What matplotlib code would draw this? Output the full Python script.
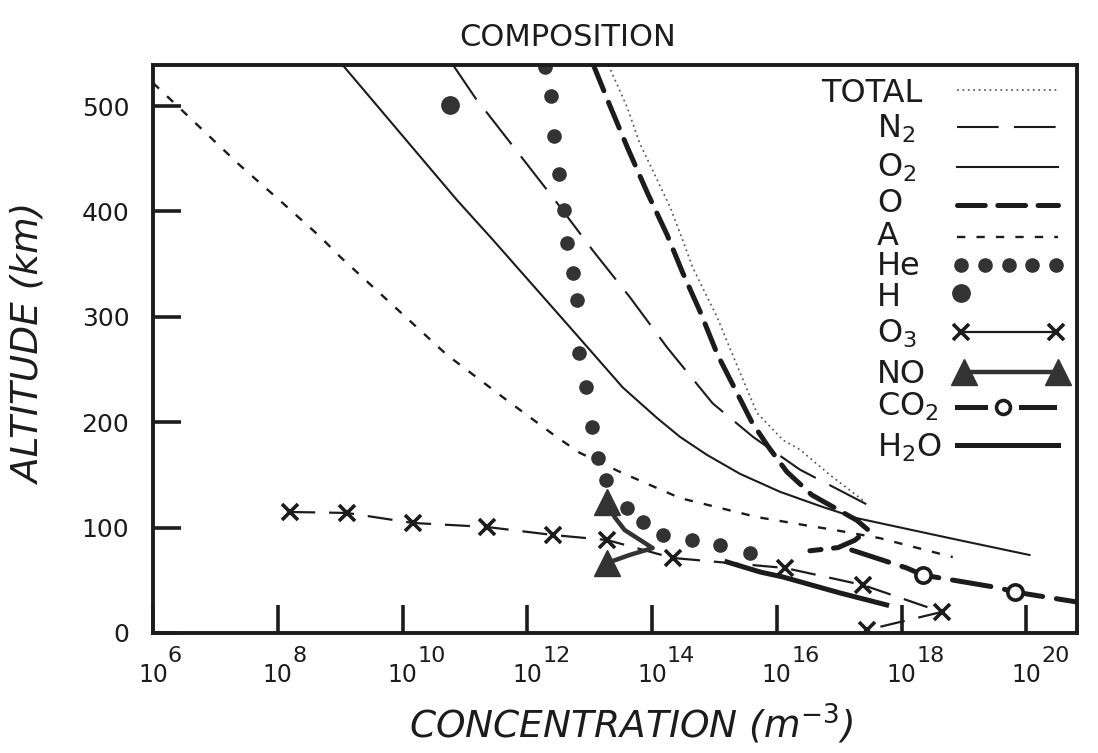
import matplotlib
matplotlib.use('Agg')
import matplotlib.pyplot as plt
import numpy as np
import matplotlib.transforms as mtransforms
from matplotlib.ticker import FixedLocator, NullLocator

plt.rcParams['lines.scale_dashes'] = False
plt.rcParams['font.family'] = ['DejaVu Sans']
plt.rcParams['mathtext.default'] = 'regular'

# ---------------- data (log10 concentration in m^-3, altitude in km) ----------------
logA = [6.0, 6.59, 7.39, 8.08, 8.68, 9.0, 10.71, 11.67, 12.47, 12.84, 13.48, 14.45, 15.68, 16.48, 16.90, 17.65, 18.82]
altA = [522, 489, 444, 408, 376, 357, 264, 221, 186, 171, 153, 128, 110, 102, 98, 90, 72]

logTOTAL = [13.30, 13.36, 13.60, 13.80, 14.01, 14.29, 14.49, 14.65, 15.04, 15.41, 15.68, 16.10, 16.37, 16.85, 17.40]
altTOTAL = [539, 531, 499, 465, 439, 404, 373, 347, 300, 247, 209, 183, 174, 150, 125]

logN2 = [10.81, 11.21, 11.35, 12.44, 13.05, 13.64, 14.24, 14.97, 15.62, 16.37, 17.54]
altN2 = [539, 504, 494, 411, 363, 319, 271, 218, 186, 155, 119]

logO2 = [9.04, 10.87, 11.45, 12.73, 13.53, 14.08, 14.45, 14.88, 15.41, 16.05, 16.69, 17.28, 18.77, 20.05]
altO2 = [539, 411, 373, 287, 233, 204, 186, 169, 151, 134, 120.5, 109, 90, 74]

logO = [13.06, 13.32, 13.61, 13.93, 14.24, 14.49, 14.77, 15.05, 15.36, 15.60, 15.86, 16.16, 16.56, 17.28, 17.46, 17.25, 16.98, 16.53]
altO = [539, 501, 460, 417, 378, 342, 305, 264, 228, 200, 177, 153, 131, 107, 98, 88, 81, 78]

logHe = [12.28, 12.38, 12.43, 12.51, 12.59, 12.63, 12.73, 12.79, 12.83, 12.94, 13.04, 13.13, 13.26, 13.60, 13.85, 14.17, 14.64, 15.09, 15.57]
altHe = [537, 510, 472, 436, 401, 370, 342, 316, 266, 233, 195, 166, 145, 119, 105, 93, 88, 83.5, 76]

logH = [10.76]
altH = [501]

logO3 = [8.20, 9.11, 10.17, 11.35, 12.41, 13.28, 14.33, 16.13, 17.38, 18.64, 17.44]
altO3 = [114.8, 113.9, 104.4, 100.6, 93.0, 88.2, 71.2, 61.7, 45.5, 19.9, 2.8]

logNO = [13.28, 13.40, 13.56, 14.01, 13.64, 13.28]
altNO = [124.3, 110, 97.7, 80.6, 74, 66.4]

logCO2 = [17.20, 18.08, 18.34, 19.57, 19.81, 20.81]
altCO2 = [78.7, 61.7, 55, 42.7, 38.9, 29.4]
co2_circles = [2, 4]

logH2O = [15.20, 15.73, 16.10, 17.01, 17.76]
altH2O = [67.4, 57.9, 53.1, 38, 26.6]

xtick_exp = [6, 8, 10, 12, 14, 16, 18, 20]
ytick_vals = [0, 100, 200, 300, 400, 500]

legend_labels = ['TOTAL', r'N$_2$', r'O$_2$', 'O', 'A', 'He', 'H', r'O$_3$', 'NO', r'CO$_2$', r'H$_2$O']

# ---------------- styles ----------------
ink = '#1c1c1c'
sty = {
    'TOTAL': dict(color='#555555', lw=1.2, ls=(0, (1.3, 2.6))),
    'N2': dict(color=ink, lw=1.5, ls=(0, (30, 11))),
    'O2': dict(color=ink, lw=1.5, ls='-'),
    'O': dict(color=ink, lw=3.6, ls=(0, (20, 9)), dash_capstyle='round'),
    'A': dict(color=ink, lw=1.7, ls=(0, (6, 8))),
    'O3': dict(color=ink, lw=1.6, ls=(0, (18, 10)), marker='x', ms=11, mew=2.6),
    'NO': dict(color='#333333', lw=3.2, marker='^', ms=19),
    'CO2': dict(color=ink, lw=3.6, ls=(0, (28, 10)), dash_capstyle='round'),
    'H2O': dict(color=ink, lw=3.6, ls='-'),
}

fig = plt.figure(figsize=(10.98, 7.53), dpi=100)
ax = fig.add_axes([0.1393, 0.1594, 0.8415, 0.7543])
ax.set_xscale('log')
ax.set_xlim(1e6, 10 ** 20.81)
ax.set_ylim(0, 539)

def X(v):
    return 10 ** np.asarray(v, dtype=float)

ax.plot(X(logA), altA, **sty['A'])
ax.plot(X(logTOTAL), altTOTAL, **sty['TOTAL'])
ax.plot(X(logN2), altN2, **sty['N2'])
ax.plot(X(logO2), altO2, **sty['O2'])
ax.plot(X(logO), altO, **sty['O'])
ax.plot(X(logHe), altHe, 'o', color='#333333', ms=9.5)
ax.plot(X(logH), altH, 'o', color='#333333', ms=12.5)
ax.plot(X(logO3), altO3, **sty['O3'])
ax.plot(X(logNO), altNO, markevery=[0, len(logNO) - 1], **sty['NO'])
ax.plot(X(logH2O), altH2O, **sty['H2O'])
ax.plot(X(logCO2), altCO2, **sty['CO2'])
ax.plot(X(logCO2)[co2_circles], np.asarray(altCO2)[co2_circles], 'o', ms=11,
        mfc='white', mec=ink, mew=2.6, zorder=5)

# ---------------- axes styling ----------------
ax.xaxis.set_major_locator(FixedLocator([10.0 ** e for e in xtick_exp]))
ax.xaxis.set_minor_locator(NullLocator())
ax.set_yticks(ytick_vals)
ax.tick_params(axis='both', direction='in', length=20, width=2.6, top=False,
               right=False, labelsize=18, colors=ink)
ax.tick_params(axis='x', labelbottom=False)
ax.tick_params(axis='y', pad=17)
for s in ax.spines.values():
    s.set_linewidth(2.8)
    s.set_color(ink)

# x tick labels drawn as "10" with a large exponent, as in the hand lettering
blend = mtransforms.blended_transform_factory(ax.transData, ax.transAxes)
exp_off = blend + mtransforms.ScaledTranslation(0.15, 0, fig.dpi_scale_trans)
for e in xtick_exp:
    ax.text(10.0 ** e, -0.074, '10', transform=blend, ha='center', va='center',
            fontsize=17, color=ink)
    ax.text(10.0 ** e, -0.040, str(e), transform=exp_off, ha='left', va='center',
            fontsize=16, color=ink)

# ---------------- legend (manual, as in the original drawing) ----------------
lab_y = [0.956, 0.894, 0.824, 0.762, 0.704, 0.651, 0.597, 0.532, 0.461, 0.403, 0.331]
samp_y = [0.956, 0.891, 0.820, 0.754, 0.697, 0.648, 0.599, 0.530, 0.460, 0.398, 0.331]
x0, x1 = 0.870, 0.980
T = ax.transAxes
keys = ['TOTAL', 'N2', 'O2', 'O', 'A', 'He', 'H', 'O3', 'NO', 'CO2', 'H2O']
for lab, key, ly, sy in zip(legend_labels, keys, lab_y, samp_y):
    if key == 'TOTAL':
        ax.text(0.833, ly - 0.021, lab, transform=T, ha='right', va='baseline', fontsize=23, color=ink)
    else:
        ax.text(0.7835, ly - 0.021, lab, transform=T, ha='left', va='baseline', fontsize=23, color=ink)
    if key in ('TOTAL', 'N2', 'O2', 'O', 'A', 'H2O'):
        ax.plot([x0, x1], [sy, sy], transform=T, clip_on=False, **sty[key])
    elif key == 'He':
        ax.plot(np.linspace(x0 + 0.005, x1 - 0.003, 5), [sy] * 5, 'o', color='#333333', ms=9.5, transform=T)
    elif key == 'H':
        ax.plot([x0 + 0.005], [sy], 'o', color='#333333', ms=12.5, transform=T)
    elif key == 'O3':
        ax.plot([x0 + 0.005, x1 - 0.003], [sy, sy], transform=T, color=ink, lw=1.6,
                marker='x', ms=11, mew=2.6)
    elif key == 'NO':
        ax.plot([x0 + 0.008, x1], [sy, sy], transform=T, clip_on=False, **sty['NO'])
    elif key == 'CO2':
        ax.plot([x0, x0 + 0.03], [sy, sy], transform=T, color=ink, lw=3.6)
        ax.plot([x0 + 0.07, x1 - 0.005], [sy, sy], transform=T, color=ink, lw=3.6)
        ax.plot([x0 + 0.05], [sy], 'o', transform=T, ms=10, mfc='white', mec=ink, mew=2.6)

# ---------------- titles ----------------
fig.text(568 / 1098, 1 - 38 / 753, 'COMPOSITION', ha='center', va='center', fontsize=22, color=ink)
fig.text(30 / 1098, 1 - 344 / 753, 'ALTITUDE (km)', rotation=90, ha='center', va='center',
         fontsize=27, style='italic', color=ink)
fig.text(631 / 1098, 1 - 724 / 753, r'CONCENTRATION (m$^{\mathit{-3}}$)', ha='center', va='center',
         fontsize=27, style='italic', color=ink)

fig.savefig('out.png', dpi=100, facecolor='white')
